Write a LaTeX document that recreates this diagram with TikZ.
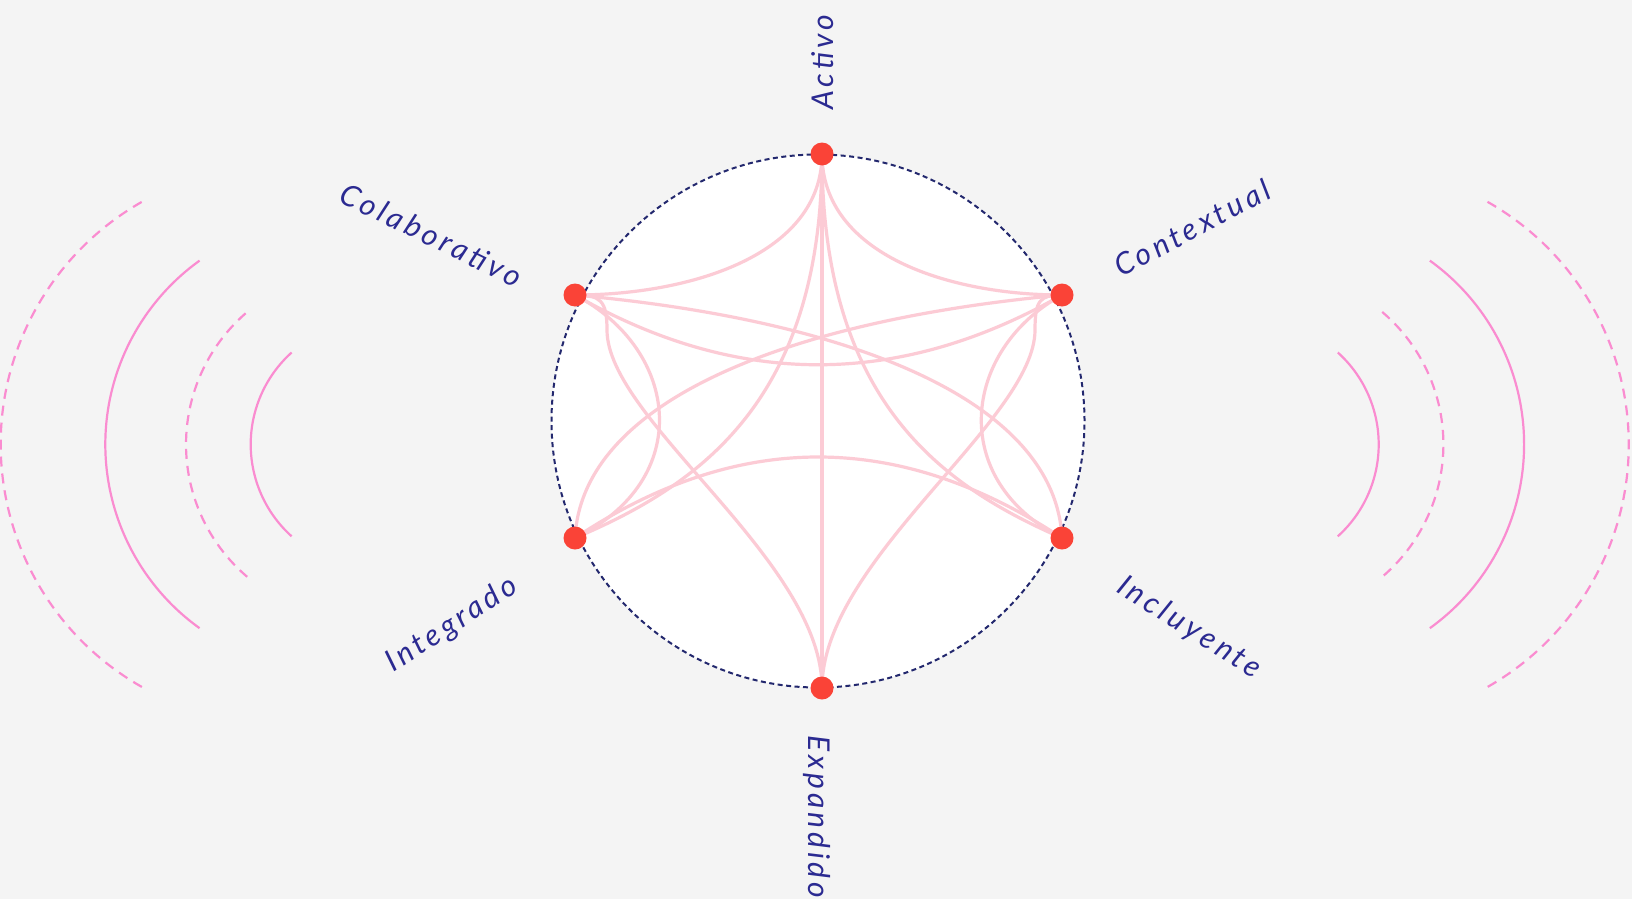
\documentclass[tikz,border=0pt]{standalone}
\usepackage{fontspec}
\newfontfamily\lblfont{Lato}[LetterSpace=13]
\definecolor{bgc}{RGB}{244,244,244}
\definecolor{navy}{RGB}{35,40,110}
\definecolor{dotred}{RGB}{250,67,55}
\definecolor{curvepink}{RGB}{252,203,213}
\definecolor{arcpink}{RGB}{250,140,208}
\definecolor{lbl}{RGB}{43,42,145}
\tikzset{
  dotnode/.style={circle,fill=dotred,inner sep=0pt,minimum size=23pt},
  link/.style={draw=curvepink,line width=3.2pt},
  wavesolid/.style={draw=arcpink,line width=2.2pt},
  wavedash/.style={draw=arcpink,line width=2.2pt,dash pattern=on 10pt off 7pt},
  lab/.style={text=lbl,font={\lblfont\itshape\fontsize{30}{34}\selectfont},inner sep=0pt}
}
\begin{document}
\begin{tikzpicture}[x=1pt,y=-1pt]
\useasboundingbox (0,0) rectangle (1632,899);
\fill[bgc] (0,0) rectangle (1632,899);
% side waves left
\draw[wavedash]  (279.7,444.4) ++(119.6:279) arc[start angle=119.6,end angle=240.4,radius=279];
\draw[wavesolid] (331.6,444.4) ++(125.7:226.3) arc[start angle=125.7,end angle=234.3,radius=226.3];
\draw[wavedash]  (359.9,444.4) ++(130.4:173.9) arc[start angle=130.4,end angle=229.6,radius=173.9];
\draw[wavesolid] (374.4,444.4) ++(132:123.7) arc[start angle=132,end angle=228,radius=123.7];
% side waves right
\draw[wavedash]  (1349.7,444.4) ++(-60.4:279) arc[start angle=-60.4,end angle=60.4,radius=279];
\draw[wavesolid] (1297.8,444.4) ++(-54.3:226.3) arc[start angle=-54.3,end angle=54.3,radius=226.3];
\draw[wavedash]  (1269.5,444.4) ++(-49.6:173.9) arc[start angle=-49.6,end angle=49.6,radius=173.9];
\draw[wavesolid] (1255,444.4) ++(-48:123.7) arc[start angle=-48,end angle=48,radius=123.7];
% main circle
\node[circle,fill=white,draw=navy,line width=2pt,dash pattern=on 5pt off 3.5pt,minimum size=533pt,inner sep=0pt] (ring) at (818,421) {};
% anchor points
\coordinate (A) at (822,154);
\coordinate (E) at (822,688);
\coordinate (L) at (575,295);
\coordinate (C) at (1062,295);
\coordinate (G) at (575,538);
\coordinate (I) at (1062,538);
% links
\draw[link] (A) -- (E);
\draw[link] (A) .. controls (822,255) and (690,295) .. (L);
\draw[link] (A) .. controls (822,255) and (950,295) .. (C);
\draw[link] (A) .. controls (822,400) and (700,485) .. (G);
\draw[link] (A) .. controls (822,400) and (940,485) .. (I);
\draw[link] (E) .. controls (822,560) and (607,420) .. (607,330) .. controls (607,300) and (600,295) .. (L);
\draw[link] (E) .. controls (822,560) and (1035,420) .. (1035,330) .. controls (1035,300) and (1040,295) .. (C);
\draw[link] (L) .. controls (737,388) and (899,388) .. (C);
\draw[link] (G) .. controls (737,430) and (899,430) .. (I);
\draw[link] (L) .. controls (850,320) and (1055,400) .. (I);
\draw[link] (C) .. controls (790,320) and (582,400) .. (G);
\draw[link] (L) .. controls (680,350) and (695,480) .. (G);
\draw[link] (C) .. controls (962,350) and (947,480) .. (I);
% dots
\node[dotnode] (dA) at (A) {};
\node[dotnode] (dE) at (E) {};
\node[dotnode] (dL) at (L) {};
\node[dotnode] (dC) at (C) {};
\node[dotnode] (dG) at (G) {};
\node[dotnode] (dI) at (I) {};
% labels
\node[lab,rotate=90]  (tA) at (823,62.5) {Activo};
\node[lab,rotate=-90] (tE) at (817,817) {Expandido};
\node[lab,rotate=-26] (tL) at (431.5,235) {Colaborativo};
\node[lab,rotate=28]  (tC) at (1192,228) {Contextual};
\node[lab,rotate=33]  (tG) at (452,625) {Integrado};
\node[lab,rotate=-32] (tI) at (1189,628) {Incluyente};
\end{tikzpicture}
\end{document}
